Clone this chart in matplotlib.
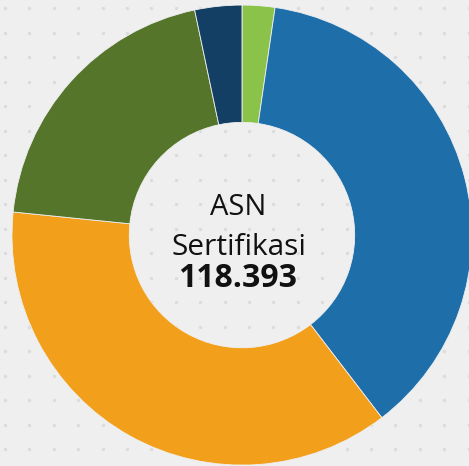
import numpy as np
import matplotlib.pyplot as plt

# slice shares of ASN Sertifikasi, clockwise from top
labels = ['Kategori 1', 'Kategori 2', 'Kategori 3', 'Kategori 4', 'Kategori 5']
values = [2723, 44160, 43806, 23797, 3907]
colors = ['#8BC34A', '#1E6EAA', '#F2A01C', '#55752A', '#123F63']
title_lines = ['ASN', 'Sertifikasi']
total_text = '118.393'

plt.rcParams['font.family'] = ['Open Sans', 'DejaVu Sans']

fig = plt.figure(figsize=(4.69, 4.66), dpi=100)
fig.patch.set_facecolor('#EFEFEF')

# faint dotted background pattern
bg = fig.add_axes([0, 0, 1, 1])
bg.set_xlim(0, 469)
bg.set_ylim(466, 0)
bg.axis('off')
gx, gy = np.meshgrid(np.arange(5, 469, 24.4), np.arange(8, 466, 24.5))
bg.scatter(gx.ravel(), gy.ravel(), s=6, color='#DCDCDC', linewidths=0, zorder=0)

ax = fig.add_axes([0, 0, 1, 1])
ax.set_facecolor('none')
ax.pie(values, colors=colors, startangle=90, counterclock=False, radius=1,
       wedgeprops=dict(width=0.51, edgecolor='#EFEFEF', linewidth=0.6))
ax.set_xlim(-1.052, 0.987)
ax.set_ylim(-1.004, 1.022)
ax.set_aspect('equal')
ax.axis('off')

ax.text(-0.015, 0.12, title_lines[0], ha='center', va='center', fontsize=21, color='#111111')
ax.text(-0.012, -0.052, title_lines[1], ha='center', va='center', fontsize=21.5, color='#111111')
ax.text(-0.02, -0.19, total_text, ha='center', va='center', fontsize=23,
        fontweight='bold', color='#111111')

fig.savefig('out.png', dpi=100, facecolor=fig.get_facecolor())
